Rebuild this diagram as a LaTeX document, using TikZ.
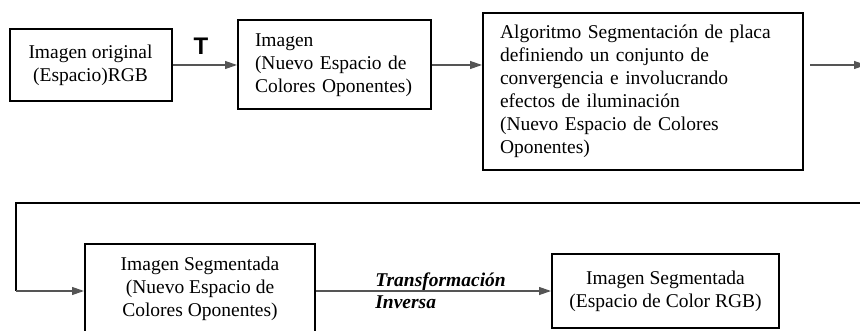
\documentclass[tikz,border=0pt]{standalone}
\usepackage{fontspec}
\setmainfont{Liberation Serif}
\newfontfamily\arialfont{Liberation Sans}
\usetikzlibrary{arrows.meta, positioning}
\definecolor{grislinea}{RGB}{85, 85, 85}
\tikzset{
  caja/.style={draw=black, line width=1pt, inner sep=0pt, font=\fontsize{9.75}{11.5}\selectfont},
  flecha/.style={draw=grislinea, line width=0.6pt, -{Triangle[length=6pt, width=4pt]}},
  retorno/.style={draw=black, line width=0.9pt}
}

\begin{document}
\begin{tikzpicture}[x=0.5pt, y=-0.5pt]
  \useasboundingbox (0,0) rectangle (860,331);

  % fila superior
  \node[caja, minimum width=81pt, minimum height=36pt, align=center] (orig) at (90.5,65) {Imagen original\\(Espacio)RGB};
  \node[caja, text width=79.5pt, inner xsep=8.5pt, minimum height=44.5pt, align=left] (opo) at (334.5,65) {Imagen\\(Nuevo Espacio de\\Colores Oponentes)};
  \node[caja, text width=143pt, inner xsep=8.5pt, minimum height=78.5pt, align=left] (alg) at (643,91.5) {Algoritmo Segmentación de placa\\definiendo un conjunto de\\convergencia e involucrando\\efectos de iluminación\\(Nuevo Espacio de Colores\\Oponentes)};

  % fila inferior (la caja de la izquierda queda cortada abajo)
  \node[caja, minimum width=115pt, minimum height=45pt, align=center] (seg) at (200,289) {Imagen Segmentada\\(Nuevo Espacio de\\Colores Oponentes)};
  \node[caja, minimum width=113.5pt, minimum height=37pt, align=center] (rgb) at (665.5,291) {Imagen Segmentada\\(Espacio de Color RGB)};

  % etiquetas
  \node[inner sep=0pt, font=\arialfont\fontsize{12}{14}\selectfont\bfseries] (letraT) at (201,46) {T};
  \node[inner sep=0pt, anchor=west, align=left, font=\fontsize{9.75}{11}\selectfont\bfseries\itshape] (inversa) at (375,291) {Transformación\\Inversa};

  \coordinate (salida) at (866,65);
  \coordinate (vuelta) at (866,203);
  \coordinate (esquina) at (16,203);

  % conectores
  \draw[flecha] (orig) -- (opo);
  \draw[flecha] (opo.east) -- (opo.east -| alg.west);
  \draw[flecha] ([xshift=3pt]alg.east |- opo.east) -- (salida);
  \draw[retorno] (vuelta) -- (esquina) -- (esquina |- rgb.west);
  \draw[flecha] (esquina |- rgb.west) -- (seg.west |- rgb.west);
  \draw[flecha] (seg.east |- rgb.west) -- (rgb);
\end{tikzpicture}
\end{document}
